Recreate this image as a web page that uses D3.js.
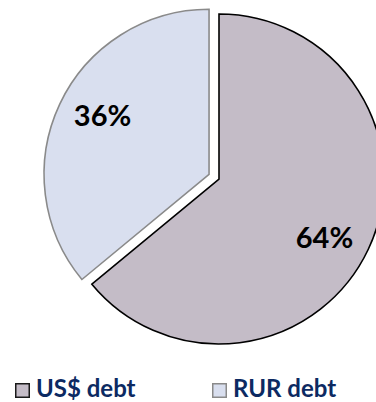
<!DOCTYPE html>
<html>
<head>
<meta charset="utf-8">
<script src="https://cdn.jsdelivr.net/npm/d3@7"></script>
<style>
  html, body { margin: 0; padding: 0; background: #ffffff; }
  svg { display: block; }
</style>
</head>
<body>
<svg id="chart" width="376" height="402"></svg>
<script>
// Debt currency split
const categories = ["US$ debt", "RUR debt"];
const shares = [64, 36];
const labels = ["64%", "36%"];
const fills = ["#c4bcc7", "#d9dfef"];
const strokes = ["#000000", "#8a8a8a"];

const svg = d3.select("#chart");
const cx = 219, cy = 179, radius = 165;
const explode = [0, 11];

const pie = d3.pie().sort(null).value(d => d.value);
const arcs = pie(categories.map((c, i) => ({ name: c, value: shares[i], i })));
const arc = d3.arc().innerRadius(0).outerRadius(radius);

const g = svg.append("g").attr("transform", `translate(${cx},${cy})`);

const slice = g.selectAll("g.slice")
  .data(arcs)
  .join("g")
  .attr("class", "slice")
  .attr("transform", d => {
    const a = (d.startAngle + d.endAngle) / 2;
    const off = explode[d.data.i];
    return `translate(${Math.sin(a) * off},${-Math.cos(a) * off})`;
  });

slice.append("path")
  .attr("d", arc)
  .attr("fill", d => fills[d.data.i])
  .attr("stroke", d => strokes[d.data.i])
  .attr("stroke-width", 1.6)
  .attr("stroke-linejoin", "miter");

// percentage labels, placed inside each slice
const labelPos = [[105.5, 69], [-106.5, -48]];
slice.append("text")
  .attr("x", d => labelPos[d.data.i][0])
  .attr("y", d => labelPos[d.data.i][1])
  .attr("text-anchor", "middle")
  .attr("font-family", "Lato, 'Open Sans', sans-serif")
  .attr("font-weight", 700)
  .attr("font-size", 29)
  .attr("fill", "#000000")
  .text(d => labels[d.data.i]);

// legend
const legendX = [15, 212];
const legend = svg.append("g").selectAll("g")
  .data(categories)
  .join("g")
  .attr("transform", (d, i) => `translate(${legendX[i]},383)`);

legend.append("rect")
  .attr("x", 0.75).attr("y", 0.75)
  .attr("width", 13.5).attr("height", 13.5)
  .attr("fill", (d, i) => fills[i])
  .attr("stroke", (d, i) => i === 0 ? "#1a1a1a" : "#8a8a8a")
  .attr("stroke-width", 1.5);

legend.append("text")
  .attr("x", 21)
  .attr("y", 14)
  .attr("font-family", "Lato, 'Open Sans', sans-serif")
  .attr("font-weight", 700)
  .attr("font-size", 24)
  .attr("fill", "#0c2a62")
  .text(d => d);
</script>
</body>
</html>
